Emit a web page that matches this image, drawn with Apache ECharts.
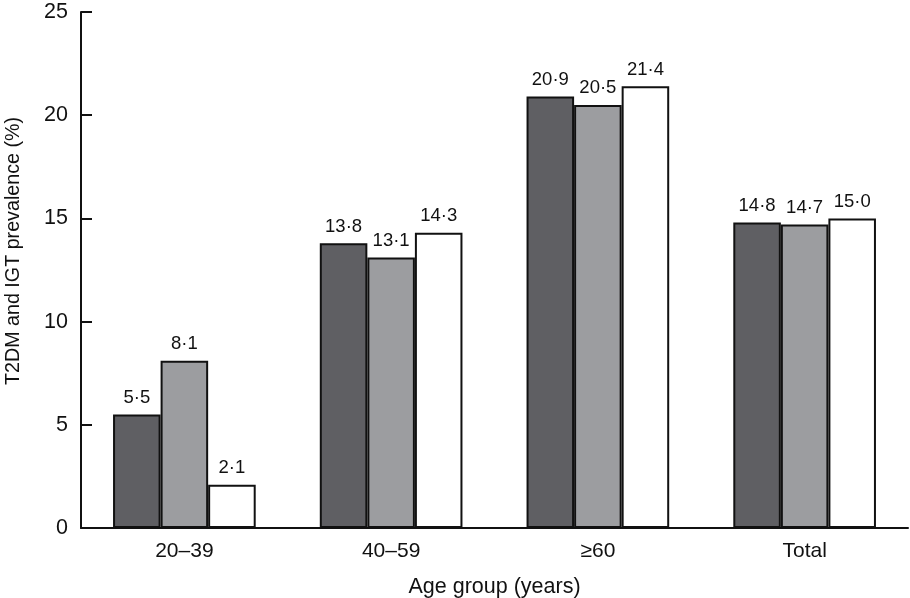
<!DOCTYPE html>
<html><head><meta charset="utf-8">
<script src="https://cdn.jsdelivr.net/npm/echarts@6/dist/echarts.min.js"></script>
<style>html,body{margin:0;padding:0;background:#fff}#c{width:910px;height:598px}</style>
</head><body><div id="c"></div>
<script>
var categories = ['20\u201339', '40\u201359', '\u226560', 'Total'];
var seriesA = [5.5, 13.8, 20.9, 14.8];
var seriesB = [8.1, 13.1, 20.5, 14.7];
var seriesC = [2.1, 14.3, 21.4, 15.0];
var yTicks = [0, 5, 10, 15, 20, 25];

var font = 'Liberation Sans, Arial, sans-serif';
function fmt(p){ return p.value.toFixed(1).replace('.', '\u00b7'); }
function mk(name, data, color){
  return {
    name: name, type: 'bar', data: data, barGap: '0%', barCategoryGap: '31%',
    itemStyle: {color: color, borderColor: '#111', borderWidth: 2},
    label: {show: true, position: 'top', distance: 7, formatter: fmt, color: '#111', fontSize: 18.5, fontFamily: font}
  };
}
var chart = echarts.init(document.getElementById('c'));
chart.setOption({
  animation: false,
  grid: {left: 81, right: 2, top: 12, bottom: 70, outerBoundsMode: 'none', containLabel: false},
  xAxis: {
    type: 'category', data: categories,
    name: 'Age group (years)', nameLocation: 'middle', nameGap: 48,
    nameTextStyle: {color: '#111', fontSize: 21.5, fontFamily: font},
    axisLine: {lineStyle: {color: '#111', width: 2}},
    axisTick: {inside: true, length: 11, lineStyle: {color: '#111', width: 2}, alignWithLabel: false},
    axisLabel: {color: '#111', fontSize: 21, fontFamily: font, margin: 13}
  },
  yAxis: {
    type: 'value', min: yTicks[0], max: yTicks[yTicks.length-1], interval: 5,
    name: 'T2DM and IGT prevalence (%)', nameLocation: 'middle', nameGap: 57,
    nameTextStyle: {color: '#111', fontSize: 19.7, fontFamily: font, padding: [0, 0, 0, 38]},
    axisLine: {show: true, lineStyle: {color: '#111', width: 2}},
    axisTick: {show: true, inside: true, length: 11, lineStyle: {color: '#111', width: 2}},
    axisLabel: {color: '#111', fontSize: 21.5, fontFamily: font, margin: 13},
    splitLine: {show: false}
  },
  series: [
    mk('A', seriesA, '#5f5f63'),
    mk('B', seriesB, '#9c9da0'),
    mk('C', seriesC, '#ffffff')
  ]
});
</script></body></html>
